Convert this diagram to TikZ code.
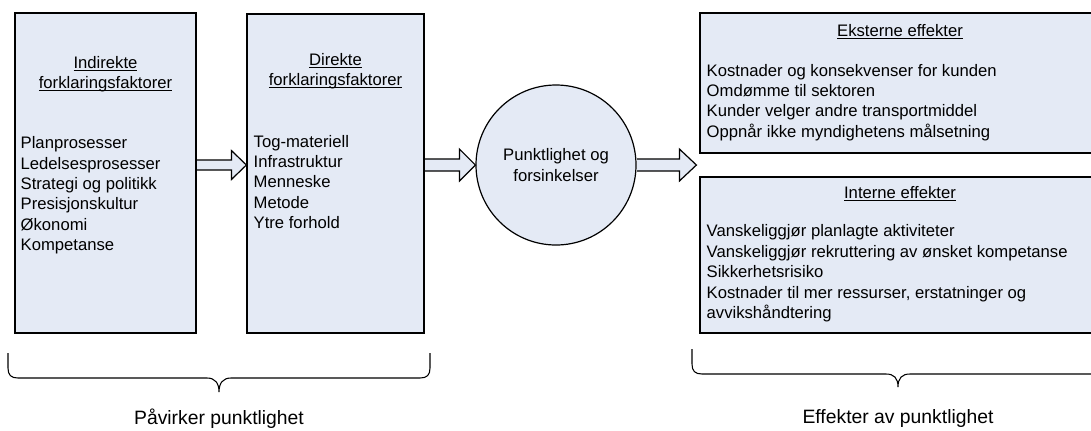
\documentclass[tikz,border=0pt]{standalone}
\usepackage{fontspec}
\setmainfont{Liberation Sans}
\usetikzlibrary{calc}
\usetikzlibrary{positioning}

\definecolor{boxfill}{RGB}{228,234,245}
\newcommand\undr[1]{\setbox0=\hbox{#1}\rlap{\rule[-1.9pt]{\wd0}{0.6pt}}\box0}

\tikzset{
  box/.style={draw, fill=boxfill, line width=0.9pt, inner sep=0pt},
  head/.style={align=center, inner sep=0pt, font=\fontsize{12.5}{15.3}\selectfont},
  list/.style={align=left, anchor=west, inner sep=0pt, font=\fontsize{12.5}{15.3}\selectfont},
  fatarrow/.style={draw, fill=boxfill, line width=0.9pt, line join=miter},
  brace/.style={draw, line width=0.8pt},
  caption/.style={inner sep=0pt, font=\fontsize{14.5}{17}\selectfont}
}

\begin{document}
\begin{tikzpicture}[x=0.75pt, y=-0.75pt]
  \useasboundingbox (0,0) rectangle (1091,430);
  \clip (0,0) rectangle (1091,430);

  %% boxes
  \node[box, minimum width=135.75pt, minimum height=240pt] (ind) at (105.5,173) {};
  \node[box, minimum width=132.75pt, minimum height=239.25pt] (dir) at (335.5,173.5) {};
  \node[box, circle, minimum size=120pt, head] (punkt) at (556,165)
    {Punktlighet og\\forsinkelser};
  \node[box, minimum width=300pt, minimum height=105pt] (ext) at (900,83) {};
  \node[box, minimum width=300pt, minimum height=117pt] (int) at (900,255) {};

  %% texts in the boxes
  \node[head] (indHead) at ($(ind.north)+(0,61.5)$)
    {\undr{Indirekte}\\\undr{forklaringsfaktorer}};
  \node[list] (indList) at ($(ind.north west)+(6,183)$)
    {Planprosesser\\Ledelsesprosesser\\Strategi og politikk\\Presisjonskultur\\Økonomi\\Kompetanse};
  \node[head] (dirHead) at ($(dir.north)+(0,57.5)$)
    {\undr{Direkte}\\\undr{forklaringsfaktorer}};
  \node[list] (dirList) at ($(dir.north west)+(7,168.5)$)
    {Tog-materiell\\Infrastruktur\\Menneske\\Metode\\Ytre forhold};
  \node[head] (extHead) at ($(ext.north)+(0,19)$) {\undr{Eksterne effekter}};
  \node[list] (extList) at ($(ext.north west)+(7,90)$)
    {Kostnader og konsekvenser for kunden\\Omdømme til sektoren\\Kunder velger andre transportmiddel\\Oppnår ikke myndighetens målsetning};
  \node[head] (intHead) at ($(int.north)+(0,17)$) {\undr{Interne effekter}};
  \node[list] (intList) at ($(int.north west)+(7,97)$)
    {Vanskeliggjør planlagte aktiviteter\\Vanskeliggjør rekruttering av ønsket kompetanse\\Sikkerhetsrisiko\\Kostnader til mer ressurser, erstatninger og\\avvikshåndtering};

  %% block arrows
  \coordinate (a1s) at (ind.east |- punkt.center);
  \coordinate (a1e) at (dir.west |- punkt.center);
  \path[fatarrow] ($(a1s)+(0.6,-5)$) -- ($(a1e)+(-15,-5)$) -- ($(a1e)+(-15,-14.5)$) -- (a1e)
    -- ($(a1e)+(-15,14.5)$) -- ($(a1e)+(-15,5)$) -- ($(a1s)+(0.6,5)$);
  \coordinate (a2s) at (dir.east |- punkt.center);
  \coordinate (a2e) at (punkt.west);
  \path[fatarrow] ($(a2s)+(0.6,-6)$) -- ($(a2e)+(-16,-6)$) -- ($(a2e)+(-16,-16)$) -- (a2e)
    -- ($(a2e)+(-16,16)$) -- ($(a2e)+(-16,6)$) -- ($(a2s)+(0.6,6)$);
  \coordinate (a3s) at (punkt.east);
  \coordinate (a3e) at ($(ext.west |- punkt.center)+(-3,0)$);
  \path[fatarrow] ($(a3s)+(0.6,-6)$) -- ($(a3e)+(-17,-6)$) -- ($(a3e)+(-17,-16)$) -- (a3e)
    -- ($(a3e)+(-17,16)$) -- ($(a3e)+(-17,6)$) -- ($(a3s)+(0.6,6)$);

  %% braces
  \path[brace] (8,353) -- (8,368) .. controls (8,375) and (11,378) .. (18,378) -- (207,378)
    .. controls (215,378) and (219,383) .. (219,392)
    .. controls (219,383) and (223,378) .. (231,378) -- (420,378)
    .. controls (427,378) and (430,375) .. (430,368) -- (430,353);
  \path[brace] (692,349) -- (692,364) .. controls (692,371) and (695,374) .. (702,374) -- (886,374)
    .. controls (894,374) and (898,378) .. (898,387)
    .. controls (898,378) and (902,374) .. (910,374) -- (1100,374);

  \node[caption] (capA) at (219,419) {Påvirker punktlighet};
  \node[caption] (capB) at (898,418) {Effekter av punktlighet};
\end{tikzpicture}
\end{document}
